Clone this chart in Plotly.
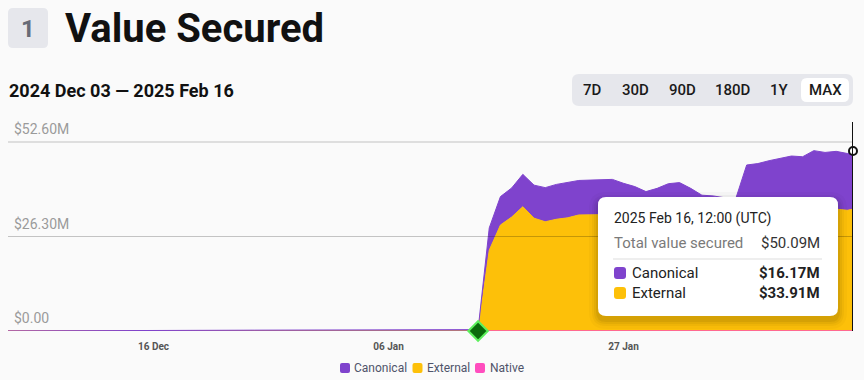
import pandas as pd
import plotly.graph_objects as go

# ---------------- data ----------------
dates = list(pd.date_range("2024-12-03", "2025-02-16", freq="D")) + [pd.Timestamp("2025-02-16 12:00")]

canonical = [  # $M
    0.02, 0.02, 0.03, 0.03, 0.03, 0.04, 0.05, 0.06,                     # Dec 03-10
    0.08, 0.10, 0.12, 0.13, 0.14, 0.15, 0.16, 0.17, 0.18, 0.19,         # Dec 11-20
    0.20, 0.21, 0.22, 0.22, 0.23, 0.24, 0.25, 0.26, 0.26, 0.27, 0.28,   # Dec 21-31
    0.29, 0.30, 0.30, 0.31, 0.32, 0.32, 0.33, 0.34, 0.34, 0.35, 0.36, 0.36, 0.37,  # Jan 01-13
    0.38, 6.2, 7.9, 8.1, 9.0, 9.2, 9.5, 9.7, 9.8, 9.6, 9.7, 9.8, 9.8,   # Jan 14-26
    9.5, 9.2, 8.8, 9.1, 9.5,                                            # Jan 27-31
    9.6, 9.1, 8.3, 8.2, 5.8, 5.1, 13.2, 13.4, 14.0, 14.6, 15.1, 15.0,   # Feb 01-12
    16.3, 15.9, 16.1, 15.8, 16.17,                                      # Feb 13-16 12:00
]
external = [0.0] * 42 + [
    0.0, 22.5, 29.5, 31.7, 34.6, 31.4, 30.4, 31.1, 31.5, 32.3, 32.3, 32.3, 32.4,  # Jan 14-26
    31.6, 31.0, 30.0, 30.6, 31.5,                                                 # Jan 27-31
    31.7, 30.6, 29.5, 29.4, 31.4, 31.5, 33.0, 33.2, 33.4, 33.5, 33.6, 33.5,       # Feb 01-12
    33.9, 33.8, 33.9, 33.6, 33.91,                                                # Feb 13-16 12:00
]
native = [0.0] * len(dates)

y_ticks = [0.0, 26.3, 52.6]
y_tick_labels = ["$0.00", "$26.30M", "$52.60M"]
x_ticks = ["2024-12-16", "2025-01-06", "2025-01-27"]
x_tick_labels = ["16 Dec", "06 Jan", "27 Jan"]
launch_date = "2025-01-14"
ranges = ["7D", "30D", "90D", "180D", "1Y", "MAX"]

# ---------------- layout helpers ----------------
FIG_W, FIG_H = 864, 380
L, R, T, B = 8, 853, 122, 331
W, H = R - L, B - T
FONT = "Roboto"
PURPLE, YELLOW, PINK = "#7f43cd", "#fdc009", "#ff4dbe"
BG = "#fafafa"


def px(x):
    return (x - L) / W


def py(y):
    return (B - y) / H


def rrect(x0, y0, x1, y1, r):
    X0, X1, Yt, Yb = px(x0), px(x1), py(y0), py(y1)
    rx, ry = r / W, r / H
    return (f"M {X0+rx},{Yt} L {X1-rx},{Yt} Q {X1},{Yt} {X1},{Yt-ry} "
            f"L {X1},{Yb+ry} Q {X1},{Yb} {X1-rx},{Yb} L {X0+rx},{Yb} "
            f"Q {X0},{Yb} {X0},{Yb+ry} L {X0},{Yt-ry} Q {X0},{Yt} {X0+rx},{Yt} Z")


shapes, annotations = [], []


def box(x0, y0, x1, y1, r, color, layer="above"):
    shapes.append(dict(type="path", xref="paper", yref="paper", path=rrect(x0, y0, x1, y1, r),
                       fillcolor=color, line=dict(width=0), layer=layer))


def text(x, y, s, size, color, weight="normal", anchor="left"):
    annotations.append(dict(xref="paper", yref="paper", x=px(x), y=py(y), text=s, showarrow=False,
                            xanchor=anchor, yanchor="middle",
                            font=dict(family=FONT, size=size, color=color, weight=weight)))


fig = go.Figure()
for name, vals, col in [("Native", native, PINK), ("External", external, YELLOW), ("Canonical", canonical, PURPLE)]:
    fig.add_trace(go.Scatter(x=dates, y=vals, name=name, stackgroup="one", mode="lines",
                             line=dict(color=col, width=1.5 if name == "Native" else 1),
                             fillcolor=col, hoverinfo="skip"))

total_last = canonical[-1] + external[-1] + native[-1]
fig.add_trace(go.Scatter(x=[launch_date], y=[0], mode="markers", cliponaxis=False, hoverinfo="skip",
                         marker=dict(symbol="diamond", size=15, color="#0a6a0a",
                                     line=dict(color="#5cf05c", width=2))))
fig.add_trace(go.Scatter(x=[dates[-1]], y=[total_last], mode="markers", cliponaxis=False, hoverinfo="skip",
                         marker=dict(symbol="circle", size=8, color="white", line=dict(color="#111", width=2))))

# gridlines (drawn above the areas, like the reference)
for v in y_ticks[1:]:
    shapes.append(dict(type="line", xref="paper", yref="y", x0=0, x1=1, y0=v, y1=v,
                       line=dict(color="rgba(0,0,0,0.22)", width=1), layer="above"))
for v, lab in zip(y_ticks, y_tick_labels):
    annotations.append(dict(xref="paper", yref="y", x=px(12), y=v, text=lab, showarrow=False,
                            xanchor="left", yanchor="bottom", yshift=3,
                            font=dict(family=FONT, size=14, color="#9a9a9a")))

# hover line
shapes.append(dict(type="line", xref="x", yref="paper", x0=dates[-1], x1=dates[-1], y0=0, y1=1,
                   line=dict(color="#111", width=2), layer="above"))

# header
box(8, 8, 48, 48, 5, "#e6e7ec")
text(28, 29, "1", 24, "#676b77", "bold", "center")
text(63, 28, "Value Secured", 40, "#111111", "bold")
text(7, 90, "2024 Dec 03 — 2025 Feb 16", 18, "#111111", "bold")

# range buttons
box(572, 74, 853, 106, 7, "#e6e7ec")
box(801, 78, 849, 102, 6, "#ffffff")
for lab, cx in zip(ranges, [592, 635, 682, 733, 779, 825]):
    text(cx, 90, lab, 15, "#1a1a1a", 500, "center")

# tooltip
for g, a in [(9, 0.025), (6, 0.035), (4, 0.045), (2, 0.06)]:
    box(598 - g, 197 - g + 4, 838 + g, 316 + g + 4, 8 + g, f"rgba(0,0,0,{a})")
box(598, 197, 838, 316, 8, "#ffffff")
text(612, 218, "2025 Feb 16, 12:00 (UTC)", 14, "#222222")
text(612, 243, "Total value secured", 15, "#7a7a7a")
text(822, 243, "$50.09M", 15, "#333333", "normal", "right")
shapes.append(dict(type="line", xref="paper", yref="paper", x0=px(613), x1=px(822), y0=py(259), y1=py(259),
                   line=dict(color="#dddddd", width=1), layer="above"))
box(614, 267, 626, 279, 3, PURPLE)
text(630, 273, "Canonical", 15, "#222222")
text(822, 273, "$16.17M", 15, "#222222", "bold", "right")
box(614, 287, 626, 299, 3, YELLOW)
text(630, 293, "External", 15, "#222222")
text(822, 293, "$33.91M", 15, "#222222", "bold", "right")

# legend
for (x0, tx, lab, col) in [(340, 352, "Canonical", PURPLE), (412.5, 425, "External", YELLOW),
                           (475, 488, "Native", PINK)]:
    box(x0, 363, x0 + 10, 373, 2, col)
    text(tx, 368, lab, 12, "#4f546a")

fig.update_layout(
    width=FIG_W, height=FIG_H, margin=dict(l=L, r=FIG_W - R, t=T, b=FIG_H - B),
    paper_bgcolor=BG, plot_bgcolor=BG, showlegend=False, hovermode=False,
    shapes=shapes, annotations=annotations,
    xaxis=dict(range=[dates[0], dates[-1]], tickvals=x_ticks, ticktext=x_tick_labels, showgrid=False,
               zeroline=False, showline=False, ticks="", ticklabelstandoff=8,
               tickfont=dict(family=FONT, size=10, color="#555555", weight="bold")),
    yaxis=dict(range=[0, 58.17], showticklabels=False, showgrid=False, zeroline=False, fixedrange=True),
)
fig.write_html("out.html", config={"displayModeBar": False},
               post_script="document.body.style.margin='0';document.body.style.background='%s';" % BG)
